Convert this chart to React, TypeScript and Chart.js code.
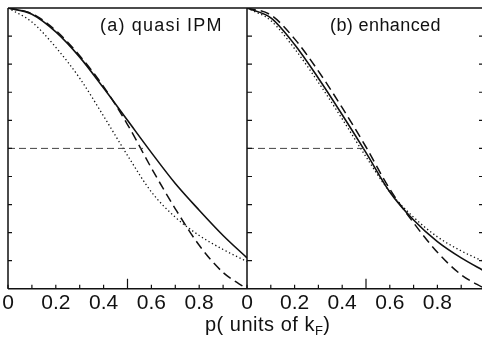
import React, { useEffect, useRef } from "react";
import { Chart, registerables } from "chart.js";

Chart.register(...registerables);

// momentum grid (units of k_F)
const pValues = [0, 0.1, 0.2, 0.3, 0.4, 0.5, 0.6, 0.7, 0.8, 0.9, 1.0];

// panel (a) quasi IPM
const aSolid = [1.0, 0.978, 0.915, 0.825, 0.715, 0.6, 0.485, 0.375, 0.28, 0.19, 0.11];
const aDashed = [1.0, 0.98, 0.92, 0.83, 0.72, 0.585, 0.43, 0.285, 0.155, 0.058, 0.0];
const aDotted = [1.0, 0.95, 0.86, 0.75, 0.615, 0.475, 0.345, 0.255, 0.19, 0.14, 0.097];

// panel (b) enhanced
const bSolid = [1.0, 0.965, 0.87, 0.75, 0.62, 0.485, 0.345, 0.245, 0.168, 0.11, 0.062];
const bDashed = [1.0, 0.975, 0.89, 0.775, 0.645, 0.505, 0.355, 0.235, 0.13, 0.05, 0.0];
const bDotted = [1.0, 0.955, 0.855, 0.735, 0.605, 0.47, 0.345, 0.255, 0.185, 0.135, 0.095];

// half-level guide lines
const halfLevel = 0.5;
const aHalfEnd = 0.565;
const bHalfEnd = 0.505;

// axis ticks
const xLabelTicks = [0, 0.2, 0.4, 0.6, 0.8];
const xMarkTicks = [0, 0.1, 0.2, 0.3, 0.4, 0.5, 0.6, 0.7, 0.8, 0.9, 1.0];
const yMarkTicks = [0.1, 0.2, 0.3, 0.4, 0.5, 0.6, 0.7, 0.8, 0.9];

const titleA = "(a) quasi IPM";
const titleB = "(b) enhanced";

const INK = "#111";

function pts(ys: number[]) {
  return pValues.map((p, i) => ({ x: p, y: ys[i] }));
}

function curve(ys: number[], xAxisID: string, style: "solid" | "dashed" | "dotted") {
  return {
    data: pts(ys),
    xAxisID,
    yAxisID: "y",
    borderColor: INK,
    borderWidth: style === "solid" ? 1.6 : style === "dashed" ? 1.5 : 1.3,
    borderDash: style === "solid" ? [] : style === "dashed" ? [9, 5] : [1.3, 2.6],
    pointRadius: 0,
    fill: false,
    cubicInterpolationMode: "monotone" as const,
  };
}

function halfLine(end: number, xAxisID: string) {
  return {
    data: [
      { x: 0, y: halfLevel },
      { x: end, y: halfLevel },
    ],
    xAxisID,
    yAxisID: "y",
    borderColor: "#444",
    borderWidth: 1,
    borderDash: [7, 4],
    pointRadius: 0,
    fill: false,
  };
}

const framePlugin = {
  id: "frame",
  afterDatasetsDraw(chart: any) {
    const { ctx, chartArea } = chart;
    const xa = chart.scales.x;
    const xb = chart.scales.x2;
    const y = chart.scales.y;
    ctx.save();
    ctx.strokeStyle = INK;
    ctx.lineWidth = 1.5;
    ctx.setLineDash([]);
    ctx.beginPath();
    ctx.moveTo(chartArea.left, chartArea.top);
    ctx.lineTo(chart.width + 5, chartArea.top);
    ctx.moveTo(chartArea.left, chartArea.bottom);
    ctx.lineTo(chart.width + 5, chartArea.bottom);
    ctx.moveTo(chartArea.left, chartArea.top);
    ctx.lineTo(chartArea.left, chartArea.bottom);
    const sep = xb.getPixelForValue(0);
    ctx.moveTo(sep, chartArea.top);
    ctx.lineTo(sep, chartArea.bottom);
    ctx.stroke();

    ctx.lineWidth = 1.2;
    ctx.beginPath();
    for (const sc of [xa, xb]) {
      for (const v of xMarkTicks) {
        const px = sc.getPixelForValue(v);
        const len = Math.abs(v - 0.5) < 1e-6 ? 10 : 4;
        ctx.moveTo(px, chartArea.bottom);
        ctx.lineTo(px, chartArea.bottom - len);
      }
    }
    const rightEdge = xb.getPixelForValue(1.0);
    for (const v of yMarkTicks) {
      const py = y.getPixelForValue(v);
      ctx.moveTo(xa.getPixelForValue(0), py);
      ctx.lineTo(xa.getPixelForValue(0) + 4, py);
      ctx.moveTo(sep, py);
      ctx.lineTo(sep + 5, py);
      ctx.moveTo(rightEdge, py);
      ctx.lineTo(rightEdge - 6, py);
    }
    ctx.stroke();
    ctx.restore();
  },
};

export default function App() {
  const ref = useRef<HTMLCanvasElement | null>(null);

  useEffect(() => {
    if (!ref.current) return;
    const tickFont = { family: "'Liberation Sans Narrow', 'Liberation Sans', sans-serif", size: 21 };
    const xCommon = (weight: number, max: number) => ({
      type: "linear" as const,
      position: "bottom" as const,
      stack: "panels",
      stackWeight: weight,
      min: 0,
      max,
      grid: { display: false, drawTicks: false },
      border: { display: false },
      ticks: {
        font: tickFont,
        color: INK,
        padding: 2,
        maxRotation: 0,
        autoSkip: false,
        callback: (v: any) => (v === 0 ? "0" : Number(v).toFixed(1)),
      },
      afterBuildTicks: (s: any) => {
        s.ticks = xLabelTicks.map((v) => ({ value: v }));
      },
    });
    const chart = new Chart(ref.current, {
      type: "line",
      data: {
        datasets: [
          halfLine(aHalfEnd, "x"),
          halfLine(bHalfEnd, "x2"),
          curve(aSolid, "x", "solid"),
          curve(aDashed, "x", "dashed"),
          curve(aDotted, "x", "dotted"),
          curve(bSolid, "x2", "solid"),
          curve(bDashed, "x2", "dashed"),
          curve(bDotted, "x2", "dotted"),
        ] as any,
      },
      options: {
        responsive: false,
        animation: false,
        devicePixelRatio: 1,
        layout: { padding: { left: 8, top: 8, right: 0, bottom: 20 } },
        plugins: { legend: { display: false }, tooltip: { enabled: false } },
        scales: {
          x: xCommon(239, 1.0),
          x2: xCommon(235, 235 / 238),
          y: { type: "linear", min: 0, max: 1, display: false },
        } as any,
      },
      plugins: [framePlugin],
    });
    return () => chart.destroy();
  }, []);

  const textFont = "'Liberation Sans', 'Noto Sans', sans-serif";
  return (
    <div style={{ position: "fixed", left: 0, top: 0, width: 482, height: 338, background: "#fff", overflow: "hidden" }}>
      <canvas ref={ref} width={482} height={338} style={{ display: "block", width: 482, height: 338 }} />
      <div style={{ position: "absolute", left: 100, top: 16, fontFamily: textFont, fontSize: 18, lineHeight: "18px", letterSpacing: "1.2px", color: INK, whiteSpace: "nowrap" }}>
        {titleA}
      </div>
      <div style={{ position: "absolute", left: 330, top: 16, fontFamily: textFont, fontSize: 18, lineHeight: "18px", letterSpacing: "0.4px", color: INK, whiteSpace: "nowrap" }}>
        {titleB}
      </div>
      <div style={{ position: "absolute", left: 205, top: 314, fontFamily: textFont, fontSize: 20, lineHeight: "20px", letterSpacing: "0.5px", color: INK, whiteSpace: "nowrap" }}>
        p( units of k<sub style={{ fontSize: 13, verticalAlign: "-4px" }}>F</sub>)
      </div>
    </div>
  );
}
